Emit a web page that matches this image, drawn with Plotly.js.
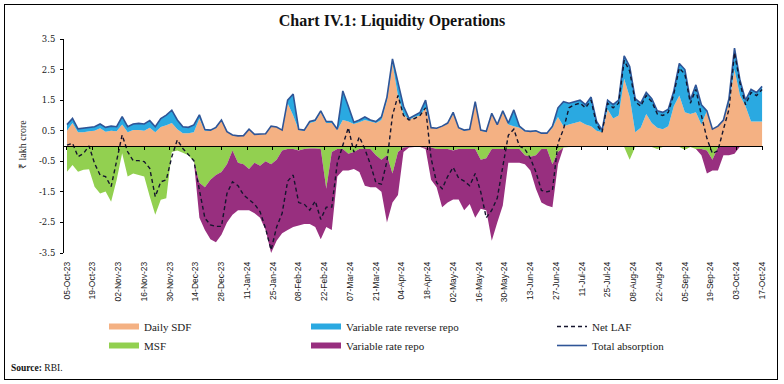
<!DOCTYPE html>
<html><head><meta charset="utf-8">
<script src="https://cdn.plot.ly/plotly-3.0.1.min.js"></script>
<style>
html,body{margin:0;padding:0;background:#fff}
#chart{width:784px;height:384px}
#frame{position:absolute;left:4px;top:4px;width:774px;height:376px;border:1.5px solid #000;box-sizing:border-box;pointer-events:none}
</style>
</head><body>
<div id="chart"></div><div id="frame"></div>
<script>
// Sampled every 3 days starting 05-Oct-2023 (values in ₹ lakh crore)
const startDate = '2023-10-05';
const stepDays = 3;

const dailySDF = [
0.50,0.75,0.45,0.45,0.48,0.50,0.58,0.47,0.50,0.48,
0.70,0.45,0.52,0.52,0.50,0.60,0.45,0.62,0.68,0.75,
0.55,0.42,0.42,0.45,0.90,0.50,0.50,0.58,0.85,0.47,
0.36,0.33,0.34,0.55,0.38,0.38,0.40,0.65,0.62,0.52,
1.40,1.00,0.52,0.50,0.75,0.80,1.10,0.75,0.75,0.52,
0.85,0.80,0.72,0.78,0.85,0.80,0.75,0.85,1.50,2.70,
1.65,1.05,0.85,0.95,1.00,1.25,0.60,0.58,0.65,0.72,
1.05,0.58,0.50,0.53,1.43,0.50,0.46,1.05,0.68,1.10,
0.70,0.65,0.60,0.48,0.46,0.48,0.40,0.40,0.60,0.95,
0.65,0.70,0.75,0.80,0.70,0.65,0.50,0.45,1.20,0.90,
1.00,2.20,1.60,0.45,0.60,1.05,0.75,0.60,0.55,0.65,
1.30,1.65,1.10,1.05,1.10,0.70,1.15,0.55,0.65,0.85,
1.40,2.50,1.65,1.30,0.80,0.80,0.80];

const variableRateReverseRepo = [
0.20,0.15,0.11,0.13,0.13,0.13,0.14,0.14,0.15,0.15,
0.26,0.18,0.20,0.22,0.22,0.23,0.18,0.28,0.33,0.42,
0.30,0.21,0.19,0.24,0.12,0.04,0.02,0.03,0,0,
0,0,0,0,0,0,0,0,0,0,
0.10,0.70,0.03,0.02,0.05,0.05,0.05,0.05,0.05,0.03,
0.95,0.50,0.06,0.07,0.10,0.05,0.05,0.10,0.10,0.15,
0.40,0.25,0.05,0.05,0.10,0.25,0,0,0,0.03,
0.05,0.02,0.02,0.02,0.02,0.02,0.02,0.02,0.02,0.05,
0.05,0.53,0.05,0.02,0.02,0.02,0.02,0.02,0.05,0.30,
0.80,0.70,0.70,0.70,0.65,0.95,0.30,0.07,0.30,0.45,
0.50,0.75,1.00,1.10,0.80,0.70,0.80,0.55,0.55,0.55,
0.50,1.05,1.40,0.45,0.90,0.65,0,0,0,0,
0.15,0.70,0.50,0.20,1.05,0.95,1.15];

const msf = [
-0.84,-0.62,-0.84,-0.78,-0.76,-1.33,-1.55,-1.49,-1.82,-1.11,
-0.24,-1.00,-0.90,-0.95,-1.00,-1.65,-2.25,-1.76,-1.71,-0.20,
-0.15,-0.22,-0.30,-0.51,-1.20,-1.35,-1.10,-0.95,-0.85,-0.60,
-0.15,-0.55,-0.60,-0.75,-0.55,-0.65,-0.50,-0.60,-0.45,-0.15,
-0.10,-0.10,-0.15,-0.10,-0.08,-0.08,-0.10,-1.40,-0.20,-0.10,
-0.10,-0.25,-0.20,-0.10,-0.10,-0.10,-0.30,-0.45,-0.30,-0.90,
-0.20,-0.05,-0.03,-0.03,-0.03,-0.05,-0.05,-0.10,-0.10,-0.10,
-0.15,-0.10,-0.10,-0.10,-0.10,-0.45,-0.40,-0.10,-0.10,-0.10,
-0.10,-0.10,-0.10,-0.30,-0.35,-0.30,-0.10,-0.10,-0.60,-0.20,
-0.05,-0.03,-0.03,-0.03,-0.03,-0.03,-0.03,-0.03,-0.03,-0.03,
-0.03,-0.03,-0.45,-0.03,-0.03,-0.03,-0.03,-0.10,-0.03,-0.03,
-0.03,-0.03,-0.12,-0.03,-0.10,-0.10,-0.15,-0.45,-0.05,-0.02,
-0.02,-0.02,-0.02,-0.02,-0.02,-0.02,-0.02];

const variableRateRepo = [
0,0,0,0,0,0,0,0,0,0,
0,0,0,0,0,0,0,0,0,0,
0,0,0,0,-1.15,-1.40,-1.95,-2.20,-2.05,-1.90,
-2.10,-1.55,-1.50,-1.35,-1.65,-1.70,-2.25,-2.90,-2.65,-2.70,
-2.65,-2.55,-2.45,-2.45,-2.47,-2.57,-2.95,-1.25,-2.55,-0.90,
-0.70,-0.55,-0.55,-0.75,-1.20,-1.25,-1.05,-1.05,-2.20,-0.95,
-1.40,-0.15,-0.02,0,0,-0.05,-1.05,-1.25,-1.90,-1.75,
-1.60,-1.65,-2.00,-1.80,-2.25,-1.60,-1.70,-3.00,-2.40,-1.85,
-0.45,-0.45,-0.45,-0.30,-0.45,-1.10,-1.75,-1.85,-1.40,-0.40,
0,0,0,0,0,0,0,0,0,0,
0,0,0,0,0,0,0,0,0,0,
0,0,0,0,0,-0.20,-0.75,-0.35,-0.75,-0.28,
-0.28,-0.23,0,0,0,0,0];

const netLAF = [
0.03,0.09,-0.35,-0.24,0.00,-0.57,-0.95,-1.00,-1.33,-0.51,
0.36,-0.19,-0.48,-0.48,-0.51,-0.73,-1.66,-1.17,-1.11,-0.35,
0.20,-0.08,-0.29,-0.48,-1.44,-2.36,-2.58,-2.63,-2.63,-1.55,
-1.17,-1.30,-1.60,-1.75,-1.90,-2.15,-2.70,-3.40,-2.65,-2.20,
-1.15,-0.95,-1.85,-1.90,-2.10,-1.80,-2.40,-2.00,-2.00,-0.55,
0.00,0.60,-0.20,0.30,-0.10,-0.60,-1.20,-1.25,-0.50,1.00,
1.65,1.00,0.85,0.90,1.00,1.25,-0.40,-1.20,-1.40,-1.00,
-0.70,-1.05,-1.15,-1.30,-0.90,-1.50,-2.35,-2.10,-1.70,-0.60,
0.35,0.55,0.00,-0.10,-0.40,-0.85,-1.45,-1.50,-1.45,0.10,
0.55,1.25,1.35,1.40,1.25,1.50,0.70,0.45,1.40,1.25,
1.40,2.80,2.45,1.45,1.30,1.65,1.45,1.05,1.00,1.10,
1.70,2.55,2.35,1.40,1.85,1.00,0.25,-0.25,-0.15,0.55,
1.20,3.05,2.05,1.35,1.75,1.65,1.85];

const tickDates = ['2023-10-05','2023-10-19','2023-11-02','2023-11-16','2023-11-30','2023-12-14','2023-12-28',
'2024-01-11','2024-01-25','2024-02-08','2024-02-22','2024-03-07','2024-03-21','2024-04-04','2024-04-18',
'2024-05-02','2024-05-16','2024-05-30','2024-06-13','2024-06-27','2024-07-11','2024-07-25','2024-08-08',
'2024-08-22','2024-09-05','2024-09-19','2024-10-03','2024-10-17'];
const yTickVals = [-3.5,-2.5,-1.5,-0.5,0.5,1.5,2.5,3.5];
const yTickText = ['-3.5','-2.5','-1.5','-0.5','0.5','1.5','2.5','3.5'];

// dates of the observations
const dates = [];
{
  const t0 = Date.parse(startDate + 'T00:00:00Z');
  for (let i = 0; i < dailySDF.length; i++) {
    dates.push(new Date(t0 + i * stepDays * 86400000).toISOString().slice(0, 10));
  }
}
const totalAbsorption = dailySDF.map((v, i) => +(v + variableRateReverseRepo[i]).toFixed(3));

const serif = 'Liberation Serif, Times New Roman, serif';
const xRange = ['2023-10-03 09:00', '2024-10-17 12:00'];

const traces = [
  {name:'Daily SDF', x:dates, y:dailySDF, type:'scatter', mode:'none', stackgroup:'pos',
   fillcolor:'#F4B183', line:{width:0}, legend:'legend', hoverinfo:'skip'},
  {name:'Variable rate reverse repo', x:dates, y:variableRateReverseRepo, type:'scatter', mode:'none', stackgroup:'pos',
   fillcolor:'#2AA9E1', line:{width:0}, legend:'legend2', hoverinfo:'skip'},
  {name:'MSF', x:dates, y:msf, type:'scatter', mode:'none', stackgroup:'neg',
   fillcolor:'#92D050', line:{width:0}, legend:'legend', hoverinfo:'skip'},
  {name:'Variable rate repo', x:dates, y:variableRateRepo, type:'scatter', mode:'none', stackgroup:'neg',
   fillcolor:'#982F7F', line:{width:0}, legend:'legend2', hoverinfo:'skip'},
  {name:'Total absorption', x:dates, y:totalAbsorption, type:'scatter', mode:'lines',
   line:{color:'#2F5597', width:1.6}, legend:'legend3', legendrank:2},
  {name:'Net LAF', x:dates, y:netLAF, type:'scatter', mode:'lines',
   line:{color:'#15152E', width:1.4, dash:'4px,3px'}, legend:'legend3', legendrank:1},
  {x:[dates[0]], y:[null], xaxis:'x2', yaxis:'y', type:'scatter', mode:'lines', showlegend:false, hoverinfo:'skip'}
];

const plotW = 784 - 64 - 21, plotH = 384 - 39 - 131;
const px = v => (v - 64) / plotW;
const py = v => (253 - v) / plotH;
const legendCommon = {orientation:'v', yanchor:'top', xanchor:'left', bgcolor:'rgba(0,0,0,0)', borderwidth:0,
  font:{family:serif, size:11, color:'#222'}, itemwidth:30, tracegroupgap:0, traceorder:'normal'};

const layout = {
  width:784, height:384,
  margin:{l:64, r:21, t:39, b:131},
  paper_bgcolor:'#fff', plot_bgcolor:'#fff',
  title:{text:'<b>Chart IV.1: Liquidity Operations</b>', font:{family:serif, size:16, color:'#111'},
         x:0.5, xref:'container', xanchor:'center', y:1 - 20/384, yref:'container', yanchor:'middle'},
  xaxis:{type:'date', range:xRange, tickvals:tickDates, tickformat:'%d-%b-%y', tickangle:-90,
         ticks:'', showline:false, showgrid:false, zeroline:false, ticklabelstandoff:6,
         tickfont:{family:'Liberation Sans Narrow, Arial Narrow, Liberation Sans, sans-serif', size:8.5, color:'#222'}},
  xaxis2:{type:'date', overlaying:'x', anchor:'free', position:0.5, range:xRange, tickvals:tickDates,
          ticks:'outside', ticklen:3, tickcolor:'#000', tickwidth:1, showticklabels:false,
          showline:true, linecolor:'#000', linewidth:1, showgrid:false, zeroline:false},
  yaxis:{range:[-3.5,3.5], tickvals:yTickVals, ticktext:yTickText, ticks:'outside', ticklen:3, tickcolor:'#000',
         showline:true, linecolor:'#000', linewidth:1, showgrid:false, zeroline:false, ticklabelstandoff:3,
         tickfont:{family:'DejaVu Serif, serif', size:8.5, color:'#222'}},
  showlegend:true,
  legend:Object.assign({}, legendCommon, {x:px(104), y:py(312)}),
  legend2:Object.assign({}, legendCommon, {x:px(306), y:py(312)}),
  legend3:Object.assign({}, legendCommon, {x:px(552), y:py(312)}),
  annotations:[
    {text:'₹ lakh crore', xref:'paper', yref:'paper', x:px(22), y:py(145), textangle:-90, showarrow:false,
     xanchor:'center', yanchor:'middle', font:{family:serif, size:10, color:'#222'}},
    {text:'<b>Source:</b> RBI.', xref:'paper', yref:'paper', x:px(9), y:py(368), showarrow:false,
     xanchor:'left', yanchor:'middle', font:{family:serif, size:9.5, color:'#111'}}
  ]
};

Plotly.newPlot('chart', traces, layout, {staticPlot:true, displayModeBar:false});
</script>
</body></html>
